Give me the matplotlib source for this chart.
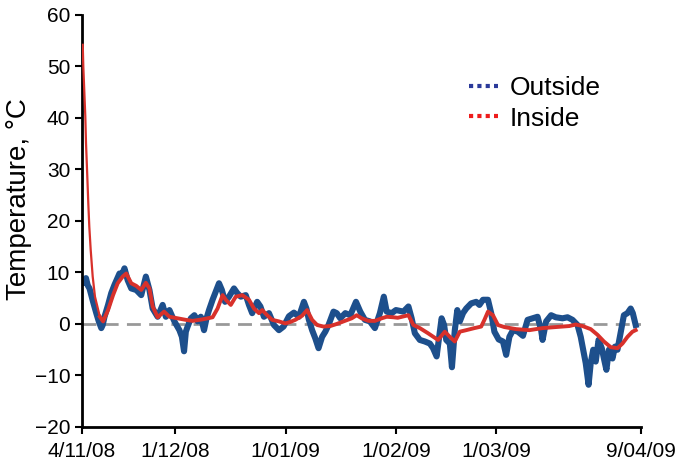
import pandas as pd
import numpy as np
import matplotlib
matplotlib.use("Agg")
import matplotlib.pyplot as plt
from matplotlib.lines import Line2D

plt.rcParams['font.family'] = ['Liberation Sans', 'DejaVu Sans']

# logger start, days since start and temperature readings
start = pd.Timestamp('2008-11-04 22:00')
end = pd.Timestamp('2009-04-10 15:00')

dni_out = [0.0, 0.3, 0.7, 1.1, 1.6, 2.1, 3.1, 4.0, 4.7, 5.4, 5.8, 6.3, 7.3, 8.2, 9.1,
           10.5, 11.2, 11.9, 12.8, 13.8, 15.2, 16.6, 17.9, 18.9, 19.8, 21.2, 22.6,
           23.5, 24.5, 25.9, 27.3, 28.0, 28.6, 29.1, 29.6, 30.5, 31.5, 32.4, 33.3,
           34.2, 34.9, 35.6, 36.6, 37.5, 38.4, 39.2, 40.1, 41.2, 42.6, 43.5, 44.5,
           45.9, 46.8, 47.7, 49.1, 50.0, 51.0, 52.4, 53.8, 55.2, 56.5, 58.0, 59.4,
           60.8, 62.2, 62.9, 63.6, 64.5, 65.4, 66.3, 67.3, 68.2, 69.1, 70.5, 71.4,
           72.4, 73.8, 75.2, 76.8, 78.0, 79.3, 80.7, 82.1, 83.5, 84.6, 85.4, 86.8,
           88.0, 88.7, 90.1, 91.5, 92.4, 93.3, 94.7, 96.1, 97.5, 98.4, 99.4, 100.0,
           100.8, 101.5, 102.1, 103.1, 103.7, 104.5, 105.2, 105.9, 106.8, 107.7,
           109.1, 110.5, 111.4, 112.4, 113.8, 114.7, 115.6, 116.8, 118.0, 118.9,
           119.8, 120.8, 122.2, 123.6, 124.9, 126.3, 127.7, 128.7, 129.1, 130.1,
           131.5, 132.8, 134.7, 136.1, 137.5, 138.9, 139.8, 140.5, 141.2, 142.0,
           142.6, 143.3, 144.0, 144.8, 145.7, 146.3, 147.0, 147.7, 148.7, 149.4,
           150.1, 150.7, 151.5, 151.9, 152.9, 153.8, 154.4, 155.2]
temp_out = [8.0, 7.9, 8.5, 8.9, 7.5, 6.9, 4.3, 2.1, 0.5, -0.8, -0.2, 1.4, 3.7, 6.0, 7.6,
            9.8, 9.6, 10.8, 8.5, 6.9, 6.6, 5.6, 9.2, 6.6, 3.0, 1.4, 3.7,
            1.4, 2.7, 0.5, -1.2, -2.5, -5.3, -1.5, -0.5, 1.1, 1.7, 0.5, 1.4,
            -1.2, 1.1, 2.7, 4.7, 6.3, 7.9, 6.6, 4.3, 5.3, 6.9, 6.0, 5.3,
            5.6, 3.7, 2.1, 4.3, 3.4, 1.4, 2.1, -0.2, -1.2, -0.5, 1.5, 2.2,
            1.4, 4.3, 3.0, 0.8, -1.2, -2.8, -4.7, -2.5, -1.5, -0.2, 2.4, 2.1,
            1.1, 2.1, 1.7, 4.3, 2.4, 0.8, 0.5, -0.8, 2.1, 5.3, 2.4, 2.1,
            2.7, 2.6, 2.4, 3.4, 1.1, -1.8, -3.1, -3.4, -3.8, -4.7, -6.3, -3.1,
            1.1, -0.2, -3.1, -3.8, -8.4, -1.2, 2.7, 0.5, 2.1, 3.0,
            4.0, 4.3, 3.7, 4.7, 4.7, 2.1, -1.5, -3.0, -3.4, -6.0,
            -2.5, -1.2, -1.5, -2.3, 0.8, 1.1, 1.4, -1.2, -3.1, 0.5,
            1.7, 1.3, 1.1, 1.3, 0.8, -0.2, -2.5, -5.0, -7.6, -11.8,
            -7.6, -5.0, -7.3, -3.1, -4.7, -6.7, -8.9, -5.0, -6.7, -4.4,
            -5.0, -2.8, 0.1, 1.7, 2.1, 3.0, 2.1, -0.2]

dni_in = [0.2, 0.36, 0.92, 1.12, 1.48, 1.76, 2.04, 2.43, 2.99, 3.63, 5.0, 5.9, 7.3,
          8.7, 10.0, 11.4, 12.4, 13.8, 15.2, 16.6, 17.9, 18.9, 19.8, 21.2, 23.0,
          24.5, 26.8, 29.1, 31.0, 33.8, 36.6, 38.0, 39.4, 40.3, 41.7, 43.1, 44.9,
          46.8, 48.2, 49.6, 50.5, 51.9, 53.3, 55.2, 57.0, 58.4, 59.8, 61.7, 63.1,
          64.5, 65.9, 67.7, 69.6, 71.4, 73.3, 75.6, 77.0, 78.4, 80.3, 82.1, 84.0,
          85.4, 87.3, 88.5, 91.5, 92.9, 94.7, 97.0, 99.8, 101.7, 103.1, 104.5,
          105.9, 107.7, 110.0, 111.9, 112.8, 113.8, 115.2, 116.6, 118.4, 121.7,
          125.4, 129.1, 132.8, 136.6, 138.4, 140.3, 142.6, 144.5, 146.3, 148.2,
          150.1, 151.5, 152.9, 154.3, 155.2]
temp_in = [54.2, 50.0, 40.3, 35.1, 28.6, 23.4, 18.9, 14.4, 9.2, 5.3, 1.4, 0.5, 2.7,
           5.6, 7.9, 9.2, 9.8, 7.9, 7.4, 6.6, 8.0, 6.9, 3.4, 1.3, 2.4,
           1.4, 1.1, 0.8, 0.6, 0.9, 1.3, 3.0, 5.6, 4.7, 3.7, 5.3, 5.6,
           4.7, 3.0, 2.1, 2.7, 1.7, 0.8, 0.5, 0.1, 0.4, 0.8, 1.6, 2.7,
           0.8, -0.2, -0.5, -0.4, 0.0, 0.5, 1.1, 1.7, 1.1, 0.6, 0.6, 1.1,
           1.4, 1.3, 1.2, 1.7, -0.2, -0.8, -1.8, -3.1, -1.5, -2.5, -3.4,
           -1.5, -1.2, -0.8, -0.5, 0.8, 2.4, 1.7, -0.2, -0.6, -1.0,
           -1.2, -0.8, -0.6, -0.4, -0.1, -0.4, -1.0, -2.1, -3.4, -4.5,
           -4.7, -3.8, -2.5, -1.5, -1.2]

tick_dates = ['2008-11-04 22:00', '2008-12-01 00:00', '2009-01-01 00:00',
              '2009-02-01 00:00', '2009-03-01 00:00', '2009-04-10 15:00']
tick_labels = ['4/11/08', '1/12/08', '1/01/09', '1/02/09', '1/03/09', '9/04/09']

czas_out = start + pd.to_timedelta(dni_out, unit='D')
czas_in = start + pd.to_timedelta(dni_in, unit='D')

kolor_out = '#1d4f8c'
kolor_in = '#d8312b'

fig = plt.figure(figsize=(6.79, 4.66), dpi=100)
ax = fig.add_axes([0.1208, 0.0837, 0.8233, 0.8843])

ax.axhline(0, color='#999999', lw=2, ls=(0, (5, 3)), zorder=1)
ax.plot(czas_out, temp_out, color=kolor_out, lw=4.4, solid_joinstyle='round', zorder=2)
# start-up spike drawn thinner, then the rest of the inside trace
ax.plot(czas_in[:11], temp_in[:11], color=kolor_in, lw=1.6, zorder=3)
ax.plot(czas_in[10:], temp_in[10:], color=kolor_in, lw=2.8, solid_joinstyle='round', zorder=3)

ax.set_xlim(start, end)
ax.set_ylim(-20, 60)
ax.set_yticks(np.arange(-20, 61, 10))
ax.set_xticks(pd.to_datetime(tick_dates, format='ISO8601'))
ax.set_xticklabels(tick_labels)
ax.tick_params(axis='both', direction='out', length=5, width=1.5, labelsize=15, colors='black')
ax.tick_params(axis='x', pad=6)

for s in ['top', 'right']:
    ax.spines[s].set_visible(False)
for s in ['left', 'bottom']:
    ax.spines[s].set_linewidth(2)

ax.set_ylabel('Temperature, °C', fontsize=20)
ax.yaxis.set_label_coords(-0.09, 0.553)

uchwyty = [Line2D([], [], color='#2b3a9a', lw=3, ls=(0, (1, 1))),
           Line2D([], [], color='#ee1c1c', lw=3, ls=(0, (1, 1)))]
fig.legend(uchwyty, ['Outside', 'Inside'], loc='upper left', bbox_to_anchor=(0.69, 0.837),
           frameon=False, fontsize=19, handlelength=1.1, handletextpad=0.45,
           labelspacing=0.25, borderpad=0, borderaxespad=0)

fig.savefig('out.png', dpi=100)
